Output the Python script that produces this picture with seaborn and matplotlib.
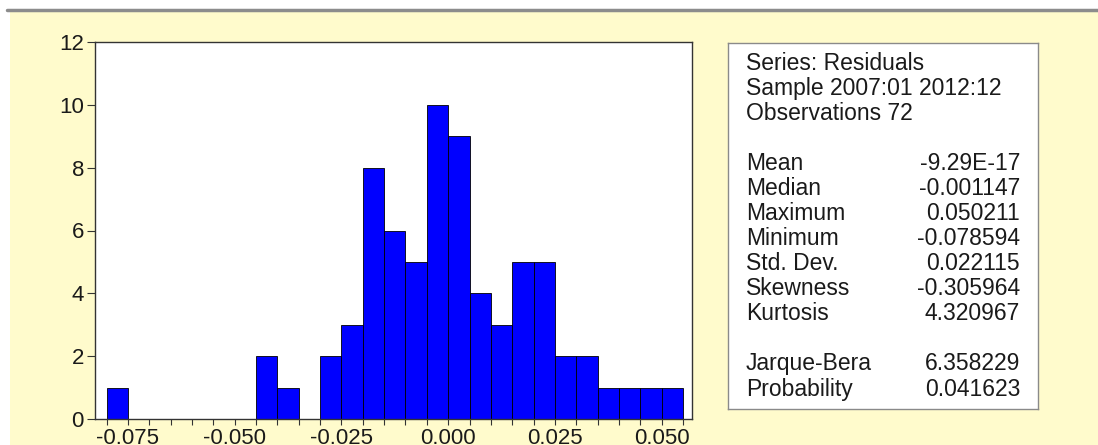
import numpy as np
import matplotlib
matplotlib.use("Agg")
import matplotlib.pyplot as plt
import seaborn as sns
from matplotlib.patches import Rectangle
from matplotlib.lines import Line2D

# Histogram of residuals (bin left edges, width 0.005)
bin_lefts = [-0.080, -0.075, -0.070, -0.065, -0.060, -0.055, -0.050, -0.045, -0.040,
             -0.035, -0.030, -0.025, -0.020, -0.015, -0.010, -0.005, 0.000, 0.005,
             0.010, 0.015, 0.020, 0.025, 0.030, 0.035, 0.040, 0.045, 0.050]
counts = [1, 0, 0, 0, 0, 0, 0, 2, 1,
          0, 2, 3, 8, 6, 5, 10, 9, 4,
          3, 5, 5, 2, 2, 1, 1, 1, 1]
bin_width = 0.005

# Summary statistics panel
header_lines = ["Series: Residuals", "Sample 2007:01 2012:12", "Observations 72"]
stat_names = ["Mean", "Median", "Maximum", "Minimum", "Std. Dev.", "Skewness", "Kurtosis"]
stat_values = ["-9.29E-17", "-0.001147", "0.050211", "-0.078594", "0.022115", "-0.305964", "4.320967"]
test_names = ["Jarque-Bera", "Probability"]
test_values = ["6.358229", "0.041623"]

x_ticks = [-0.075, -0.050, -0.025, 0.000, 0.025, 0.050]
y_ticks = [0, 2, 4, 6, 8, 10, 12]

sns.set_style("white")
plt.rcParams["font.family"] = ["Liberation Sans", "DejaVu Sans"]

W, H = 1098, 445
fig = plt.figure(figsize=(W / 100, H / 100), dpi=100, facecolor="white")

# yellow EViews-like background and the gray bar on top
fig.patches.append(Rectangle((10 / W, 0), 1, 1 - 12 / H, transform=fig.transFigure,
                             facecolor="#fffbcc", edgecolor="none", zorder=-10))
fig.add_artist(Line2D([7 / W, 1], [1 - 10 / H, 1 - 10 / H], transform=fig.transFigure,
                      color="#8c8c8c", lw=2.5, zorder=-5))

ax = fig.add_axes([95 / W, 1 - 419 / H, 597 / W, 377 / H])
ax.set_facecolor("white")

centers = np.array(bin_lefts) + bin_width / 2
edges = list(bin_lefts) + [bin_lefts[-1] + bin_width]
sns.histplot(x=centers, weights=counts, bins=edges, ax=ax, stat="count",
             color="#0000ff", alpha=1, edgecolor="black", linewidth=0.6)

ax.set_xlim(-0.0827, 0.0571)
ax.set_ylim(0, 12)
ax.set_xticks(x_ticks)
ax.set_xticklabels([f"{t:.3f}" for t in x_ticks])
ax.set_xticks(edges, minor=True)
ax.set_yticks(y_ticks)
ax.set_xlabel("")
ax.set_ylabel("")
ax.tick_params(axis="both", which="both", direction="out", width=0.8,
               color="#333333", labelsize=16, labelcolor="#1a1a1a", bottom=True, left=True)
ax.tick_params(axis="x", which="both", length=4.5, pad=2)
ax.tick_params(axis="y", which="both", length=6, pad=2)
for s in ax.spines.values():
    s.set_visible(True)
    s.set_color("#333333")
    s.set_linewidth(1.0)

# stats box
bx = fig.add_axes([728 / W, 1 - 409 / H, 310 / W, 366 / H])
bx.set_facecolor("white")
bx.set_xticks([])
bx.set_yticks([])
for s in bx.spines.values():
    s.set_visible(True)
    s.set_color("#8a8a8a")
    s.set_linewidth(1.0)


def py(pix):
    # pixel row (baseline) in figure -> box axes fraction
    return (409 - pix) / 366


xl = (746 - 728) / 310
xr = (1020 - 728) / 310
fs = 16.5
txt_kw = dict(transform=bx.transAxes, fontsize=fs, color="#1a1a1a", va="baseline")

rows = [70, 95, 120]
for line, r in zip(header_lines, rows):
    bx.text(xl, py(r), line, ha="left", **txt_kw)
rows = [170, 195, 220, 245, 270, 295, 320]
for name, val, r in zip(stat_names, stat_values, rows):
    bx.text(xl, py(r), name, ha="left", **txt_kw)
    bx.text(xr, py(r), val, ha="right", **txt_kw)
rows = [370, 396]
for name, val, r in zip(test_names, test_values, rows):
    bx.text(xl, py(r), name, ha="left", **txt_kw)
    bx.text(xr, py(r), val, ha="right", **txt_kw)

fig.savefig("out.png", dpi=100, facecolor="white")
